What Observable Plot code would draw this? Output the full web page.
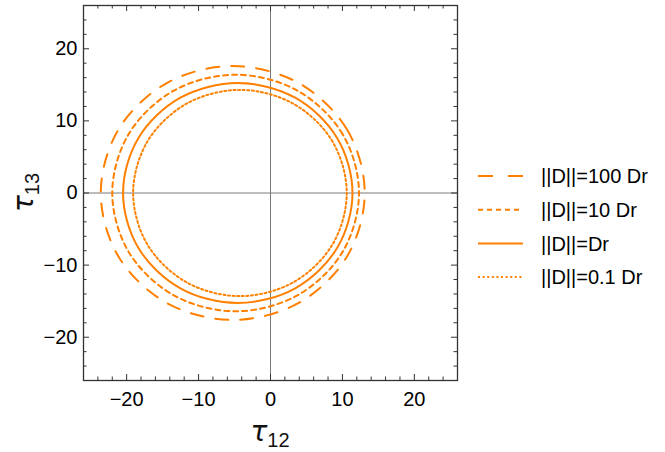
<!DOCTYPE html>
<html><head><meta charset="utf-8">
<script src="https://cdn.jsdelivr.net/npm/d3@7"></script>
<script src="https://cdn.jsdelivr.net/npm/@observablehq/plot@0.6"></script>
<style>
body{margin:0;background:#fff;}
#wrap{position:relative;width:665px;height:452px;overflow:hidden;}
#legend{position:absolute;left:470px;top:160px;}
</style></head><body><div id="wrap"></div>
<script>
// Series labels
const seriesNames = ["||D||=100 Dr", "||D||=10 Dr", "||D||=Dr", "||D||=0.1 Dr"];

// Closed curves, points (counter-clockwise from the right-most point)
const x100 = [13.1, 10.64, 3.93, -5.25, -14.43, -21.14, -23.6, -21.14, -14.43, -5.25, 3.93, 10.64];
const y100 = [0, 8.8, 15.24, 17.6, 15.24, 8.8, 0, -8.8, -15.24, -17.6, -15.24, -8.8];

const x10 = [12.3, 10.0, 3.73, -4.85, -13.43, -19.7, -22.0, -19.7, -13.43, -4.85, 3.73, 10.0];
const y10 = [0, 8.2, 14.2, 16.4, 14.2, 8.2, 0, -8.2, -14.2, -16.4, -14.2, -8.2];

const x1 = [11.4, 9.26, 3.43, -4.55, -12.53, -18.36, -20.5, -18.36, -12.53, -4.55, 3.43, 9.26];
const y1 = [0, 7.63, 13.21, 15.25, 13.21, 7.63, 0, -7.63, -13.21, -15.25, -13.21, -7.63];

const x01 = [10.6, 8.61, 3.18, -4.25, -11.68, -17.11, -19.1, -17.11, -11.68, -4.25, 3.18, 8.61];
const y01 = [0, 7.15, 12.38, 14.3, 12.38, 7.15, 0, -7.15, -12.38, -14.3, -12.38, -7.15];

// Axes
const xDomain = [-26, 26];
const yDomain = [-26, 26];
const majorTicks = [-20, -10, 0, 10, 20];
const minorTicks = [-24, -22, -18, -16, -14, -12, -8, -6, -4, -2, 2, 4, 6, 8, 12, 14, 16, 18, 22, 24];
const xLabelSub = "12";
const yLabelSub = "13";

// styling
const orange = "#ff8000";
const dashes = ["13,12", "5,4", null, "2,2.6"];
const lw = 2;

const toRows = (xs, ys) => xs.map((x, i) => ({x, y: ys[i]}));
const curves = [toRows(x100, y100), toRows(x10, y10), toRows(x1, y1), toRows(x01, y01)];

const W = 665, H = 452, mL = 83, mR = 208, mT = 5, mB = 72;
const fw = W - mL - mR, fh = H - mT - mB;
const majLen = 6, minLen = 3.5;
const tickColor = "#333";

const chart = Plot.plot({
  width: W, height: H,
  marginLeft: mL, marginRight: mR, marginTop: mT, marginBottom: mB,
  style: {fontFamily: "'Liberation Sans', Arial, sans-serif", fontSize: "20px", background: "#fff", color: "#111"},
  x: {domain: xDomain},
  y: {domain: yDomain},
  marks: [
    Plot.ruleX([0], {stroke: "#7a7a7a", strokeWidth: 1}),
    Plot.ruleY([0], {stroke: "#7a7a7a", strokeWidth: 1}),
    ...curves.map((c, i) => Plot.line(c, {
      x: "x", y: "y", curve: "catmull-rom-closed",
      stroke: orange, strokeWidth: lw,
      strokeDasharray: dashes[i] ?? undefined
    })),
    // ticks, inward on all four sides
    Plot.ruleX(majorTicks, {insetTop: fh - majLen, stroke: tickColor}),
    Plot.ruleX(majorTicks, {insetBottom: fh - majLen, stroke: tickColor}),
    Plot.ruleX(minorTicks, {insetTop: fh - minLen, stroke: tickColor}),
    Plot.ruleX(minorTicks, {insetBottom: fh - minLen, stroke: tickColor}),
    Plot.ruleY(majorTicks, {insetRight: fw - majLen, stroke: tickColor}),
    Plot.ruleY(majorTicks, {insetLeft: fw - majLen, stroke: tickColor}),
    Plot.ruleY(minorTicks, {insetRight: fw - minLen, stroke: tickColor}),
    Plot.ruleY(minorTicks, {insetLeft: fw - minLen, stroke: tickColor}),
    Plot.axisX(majorTicks, {anchor: "bottom", tickSize: 0, tickPadding: 11, label: null, fill: "#000"}),
    Plot.axisY(majorTicks, {anchor: "left", tickSize: 0, tickPadding: 6, label: null, fill: "#000"}),
    Plot.frame({stroke: tickColor, strokeWidth: 1.3})
  ]
});

document.getElementById("wrap").appendChild(chart);

// axis titles (tau with subscripts)
const svg = d3.select(chart);
function tauLabel(sel, sub) {
  sel.attr("text-anchor", "middle").attr("fill", "#111");
  sel.append("tspan").attr("font-family", "'DejaVu Sans', sans-serif").attr("font-style", "italic").attr("font-size", 28).text("τ");
  sel.append("tspan").attr("font-family", "'Liberation Sans', Arial, sans-serif").attr("font-size", 20).attr("dy", 6).text(sub);
}
const xMid = chart.scale("x").apply(0);
const yMid = chart.scale("y").apply(0);
tauLabel(svg.append("text").attr("x", xMid).attr("y", 441), xLabelSub);
tauLabel(svg.append("g").attr("transform", `translate(33,${yMid}) rotate(-90)`).append("text"), yLabelSub);

// legend
const leg = d3.select("#wrap").append("div").attr("id", "legend")
  .append("svg").attr("width", 195).attr("height", 135);
const rowY = (i) => 16 + i * 33.7;
seriesNames.forEach((name, i) => {
  const g = leg.append("g").attr("transform", `translate(0,${rowY(i)})`);
  const ln = g.append("line").attr("x1", 8).attr("x2", 53).attr("y1", 0).attr("y2", 0)
    .attr("stroke", orange).attr("stroke-width", lw);
  if (i === 0) ln.attr("stroke-dasharray", "15,15");
  else if (dashes[i]) ln.attr("stroke-dasharray", dashes[i]);
  g.append("text").attr("x", 71).attr("y", 0).attr("dy", "0.36em")
    .attr("font-family", "'Liberation Sans', Arial, sans-serif").attr("font-size", 20)
    .attr("fill", "#000").text(name);
});
</script></body></html>
